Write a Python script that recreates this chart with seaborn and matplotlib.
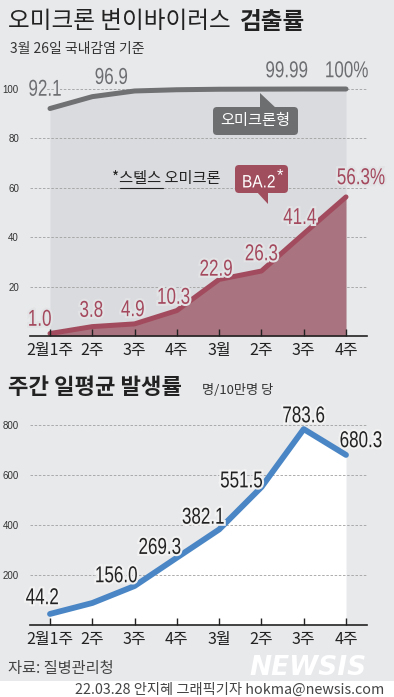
import numpy as np
import pandas as pd
import matplotlib
matplotlib.use('Agg')
import matplotlib.pyplot as plt
import matplotlib.patheffects as pe
from matplotlib.patches import FancyBboxPatch, Polygon, Rectangle, PathPatch
from matplotlib.textpath import TextPath
from matplotlib.font_manager import FontProperties
from matplotlib.transforms import Affine2D, ScaledTranslation
import seaborn as sns

# data
weeks = ['2월1주', '2주', '3주', '4주', '3월', '2주', '3주', '4주']
omicron = [92.1, 96.9, 99.2, 99.7, 99.9, 99.95, 99.99, 100.0]
omicron_labels = ['92.1', '96.9', '', '', '', '', '99.99', '100%']
ba2 = [1.0, 3.8, 4.9, 10.3, 22.9, 26.3, 41.4, 56.3]
ba2_labels = ['1.0', '3.8', '4.9', '10.3', '22.9', '26.3', '41.4', '56.3%']
daily_rate = [44.2, 88.0, 156.0, 269.3, 382.1, 551.5, 783.6, 680.3]
rate_labels = ['44.2', '', '156.0', '269.3', '382.1', '551.5', '783.6', '680.3']

# label offsets in pixels (dx, dy up)
omicron_off = [(-5, 21), (19, 21), None, None, None, None, (-17, 20), (1, 20)]
ba2_off = [(-10, 16), (-1, 18), (-2, 16), (-3, 15), (-3, 12), (0, 19), (-4, 18), (15, 21)]
rate_off = [(-8, 18), None, (-18, 12), (-17, 12), (-16, 14), (-20, 8), (0, 15), (15, 16)]

W, H, DPI = 394, 697, 100
BG = '#e8e9eb'
KR = ['Noto Sans CJK KR', 'DejaVu Sans']
NUMFP = FontProperties(family=['Liberation Sans', 'DejaVu Sans'])

sns.set_theme(style='white')
plt.rcParams['font.family'] = KR
plt.rcParams['axes.unicode_minus'] = False

fig = plt.figure(figsize=(W / DPI, H / DPI), dpi=DPI, facecolor=BG)


def axes_px(left, top, right, bottom):
    return fig.add_axes([left / W, 1 - bottom / H, (right - left) / W, (bottom - top) / H])


def narrow_text(ax, xy, s, off=(0, 0), size=23, sx=0.74, color='k', halo=None, zorder=6):
    # condensed number text: a glyph path squeezed horizontally, anchored at a data point
    tp = TextPath((0, 0), s, size=size, prop=NUMFP)
    bb = tp.get_extents()
    cx = (bb.x0 + bb.x1) / 2
    cy = size * 0.716 / 2
    tr = (Affine2D().translate(-cx, -cy).scale(sx, 1).translate(*off)
          + ScaledTranslation(xy[0], xy[1], ax.transData))
    patch = PathPatch(tp, transform=tr, fc=color, ec='none', zorder=zorder)
    patch.set_clip_on(False)
    if halo:
        patch.set_path_effects([pe.withStroke(linewidth=3, foreground=halo)])
    ax.add_artist(patch)
    return patch


x = np.arange(len(weeks))
unit = 296 / 7  # px between weeks
df_top = pd.DataFrame({'x': x, 'omicron': omicron, 'ba2': ba2})
df_bot = pd.DataFrame({'x': x, 'rate': daily_rate})


def style(ax, yticks):
    ax.set_facecolor('none')
    for s in ['top', 'right', 'left']:
        ax.spines[s].set_visible(False)
    ax.spines['bottom'].set_color('#222222')
    ax.spines['bottom'].set_linewidth(1.2)
    ax.set_xlim(-20 / unit, 317 / unit)
    ax.set_xticks(x)
    ax.set_xticklabels(weeks, fontsize=11.5, color='#222222')
    ax.tick_params(axis='x', direction='in', length=5, width=1, color='#222222', pad=4, bottom=True)
    ax.set_yticks(yticks)
    ax.set_yticklabels([str(v) for v in yticks], fontsize=7, color='#333333',
                       family=['Liberation Sans', 'DejaVu Sans'])
    ax.tick_params(axis='y', length=0, pad=8, left=True)
    ax.grid(axis='y', linestyle=(0, (3, 2)), color='#a0a0a0', linewidth=0.6)
    ax.grid(axis='x', visible=False)
    ax.yaxis.set_zorder(0.5)
    ax.xaxis.set_zorder(3)
    ax.set_xlabel('')
    ax.set_ylabel('')


def label(ax, xs, ys, labels, offs, color, halo):
    for xi, yi, lb, off in zip(xs, ys, labels, offs):
        if lb:
            narrow_text(ax, (xi, yi), lb, off=off, color=color, halo=halo)


# ---- top chart: detection rate ----
ax1 = axes_px(30, 60, 367, 336)
ax1.fill_between(x, 0, omicron, color='#dadbde', lw=0, zorder=0.2)
ax1.fill_between(x, 0, ba2, color='#a9747f', lw=0, zorder=0.8)
sns.lineplot(data=df_top, x='x', y='omicron', ax=ax1, color='#707173', lw=3.6,
             solid_capstyle='round', zorder=2)
sns.lineplot(data=df_top, x='x', y='ba2', ax=ax1, color='#a24b5e', lw=3.6,
             solid_capstyle='round', zorder=2)
style(ax1, [20, 40, 60, 80, 100])
ax1.set_ylim(0, 276 / 2.47)
label(ax1, x, omicron, omicron_labels, omicron_off, '#6d6e71', BG)
label(ax1, x, ba2, ba2_labels, ba2_off, '#a4485d', '#e2e3e5')

# ---- bottom chart: daily incidence ----
ax2 = axes_px(30, 400, 367, 625)
ax2.fill_between(x, 0, daily_rate, color='white', lw=0, zorder=0.2)
sns.lineplot(data=df_bot, x='x', y='rate', ax=ax2, color='#4a86c5', lw=4.2,
             solid_capstyle='round', zorder=2)
style(ax2, [200, 400, 600, 800])
ax2.set_ylim(0, 225 / 0.25)
label(ax2, x, daily_rate, rate_labels, rate_off, '#222222', '#f2f2f2')

# ---- overlay in pixel coordinates for titles and notes ----
ov = fig.add_axes([0, 0, 1, 1])
ov.set_xlim(0, W)
ov.set_ylim(H, 0)
ov.axis('off')
ov.set_zorder(5)
ov.patch.set_alpha(0)

ov.text(8, 22, '오미크론 변이바이러스', fontsize=17, color='#222222', va='center')
ov.text(240, 22, '검출률', fontsize=17, color='#222222', va='center', weight='bold')
ov.text(10, 49, '3월 26일 국내감염 기준', fontsize=10, color='#333333', va='center')

# omicron callout
ov.add_patch(Polygon([(260, 93), (260, 109), (277, 109)], closed=True, fc='#6d6e70', ec='none'))
ov.add_patch(FancyBboxPatch((213, 107), 85, 28, boxstyle='round,pad=0,rounding_size=4',
                            fc='#6d6e70', ec='none'))
ov.text(255.5, 121, '오미크론형', fontsize=11, color='white', ha='center', va='center')

# BA.2 callout
ov.text(112, 179, '*스텔스 오미크론', fontsize=11, color='#222222', va='center')
ov.plot([120, 163], [187.5, 187.5], color='#222222', lw=0.8)
ov.add_patch(Polygon([(256, 191), (268, 191), (268, 204)], closed=True, fc='#a04d5e', ec='none'))
ov.add_patch(FancyBboxPatch((235, 165), 53, 28, boxstyle='round,pad=0,rounding_size=4',
                            fc='#a04d5e', ec='none'))
narrow_text(ov, (259, 181), 'BA.2', size=18, sx=0.86, color='white', zorder=7)
ov.text(280, 176, '*', fontsize=12, color='white', ha='center', va='center',
        family=['Liberation Sans', 'DejaVu Sans'])

# bottom title
ov.text(8, 387, '주간 일평균 발생률', fontsize=16, color='#222222', va='center', weight='bold')
ov.text(202, 390, '명/10만명 당', fontsize=9.5, color='#333333', va='center')

# footer
ov.text(8, 668, '자료: 질병관리청', fontsize=11, color='#444444', va='center')
ov.text(308, 668, 'NEWSIS', fontsize=19, color='white', ha='center', va='center',
        weight='bold', style='italic', family=['DejaVu Sans'])
ov.add_patch(Rectangle((0, 681), W, 16, fc='white', ec='none'))
ov.text(384, 690, '22.03.28 안지혜 그래픽기자 hokma@newsis.com', fontsize=10.3,
        color='#444444', ha='right', va='center')

fig.savefig('out.png', dpi=DPI, facecolor=BG)
